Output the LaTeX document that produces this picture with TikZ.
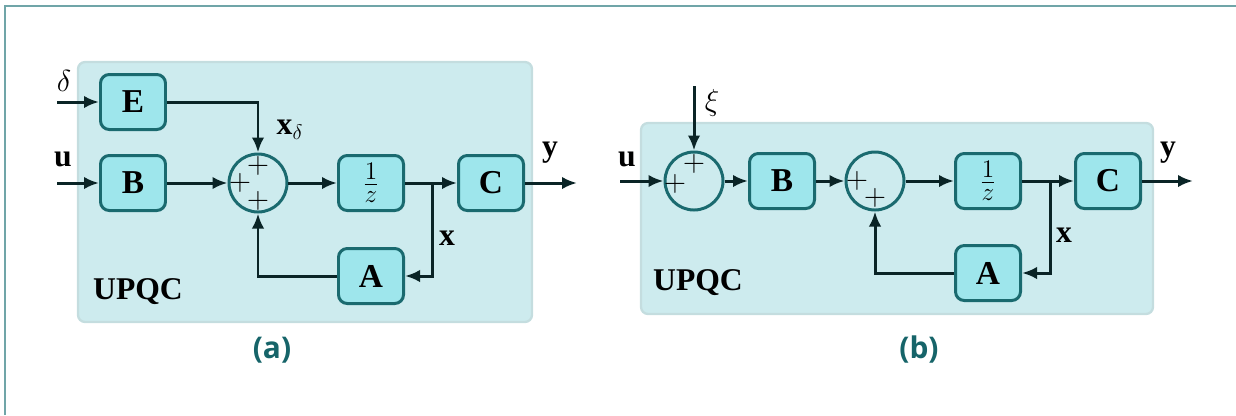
\documentclass[tikz,border=0pt]{standalone}
\usepackage{amsmath}
\usepackage{fontspec}
\setmainfont{Liberation Serif}
\newfontfamily\capfont{Open Sans}
\usepackage{tikz}
\usetikzlibrary{positioning,arrows.meta,calc,backgrounds}

\definecolor{panelfill}{RGB}{205,235,238}
\definecolor{paneldraw}{RGB}{196,221,223}
\definecolor{blockfill}{RGB}{158,230,236}
\definecolor{blockdraw}{RGB}{26,106,111}
\definecolor{wire}{RGB}{10,36,38}
\definecolor{captxt}{RGB}{22,100,105}
\definecolor{framecol}{RGB}{112,165,168}

\begin{document}
\begin{tikzpicture}[font=\fontsize{18}{21}\selectfont,
  panel/.style={draw=paneldraw,line width=1.3pt,fill=panelfill,rounded corners=4pt},
  block/.style={draw=blockdraw,line width=1.7pt,fill=blockfill,rounded corners=5pt,minimum width=1.3cm,minimum height=1.1cm,inner sep=0pt,font=\fontsize{19}{21}\selectfont\bfseries},
  summer/.style={circle,draw=blockdraw,line width=1.7pt,minimum size=1.16cm,inner sep=0pt},
  sig/.style={draw=wire,line width=1.7pt,-{Latex[length=3mm,width=2.5mm]}},
  pm/.style={font=\fontsize{16}{16}\selectfont,inner sep=0pt},
  subcap/.style={font=\capfont\bfseries\fontsize{17}{20}\selectfont,text=captxt}]
\useasboundingbox (0,0) rectangle (24.72,-8.3);
\draw[framecol,line width=1.1pt] (0.1,-8.3) -- (0.1,-0.12) -- (24.72,-0.12);

% (a)
\draw[panel] (1.56,-1.24) rectangle (10.64,-6.44);
\node[block] (Ea) at (2.66,-2.04) {E};
\node[block] (Ba) at (2.66,-3.66) {B};
\node[summer] (sa) at (5.16,-3.66) {};
\node[block,font=\fontsize{19}{21}\selectfont] (za) at (7.42,-3.66) {$\frac{1}{z}$};
\node[block] (Ca) at (9.82,-3.66) {C};
\node[block] (Aa) at (7.42,-5.52) {A};
\node[pm] (pa1) at ($(sa)+(0,0.34)$) {$+$};
\node[pm] (pa2) at ($(sa)+(-0.36,0)$) {$+$};
\node[pm] (pa3) at ($(sa)+(0,-0.36)$) {$+$};
\coordinate (da) at (1.14,-2.04);
\coordinate (ua) at (1.14,-3.66);
\coordinate (bra) at (8.64,-3.66);
\coordinate (ya) at (11.54,-3.66);
\draw[sig] (da) -- (Ea);
\draw[sig] (ua) -- (Ba);
\draw[sig] (Ea.east) -| (sa.north);
\draw[sig] (Ba) -- (sa);
\draw[sig] (sa) -- (za);
\draw[sig] (za) -- (Ca);
\draw[sig] (bra) |- (Aa.east);
\draw[sig] (Aa.west) -| (sa.south);
\draw[sig] (Ca) -- (ya);
\node (lda) at (1.28,-1.62) {$\delta$};
\node (lua) at (1.26,-3.18) {\bfseries u};
\node (lxd) at (5.8,-2.6) {\bfseries x$_\delta$};
\node (lxa) at (8.94,-4.76) {\bfseries x};
\node (lya) at (11.0,-3.06) {\bfseries y};
\node (upa) at (2.76,-5.84) {\bfseries UPQC};
\node[subcap] (capa) at (5.44,-7.0) {(a)};

% (b)
\draw[panel] (12.82,-2.46) rectangle (23.06,-6.28);
\node[summer] (sb1) at (13.88,-3.62) {};
\node[block] (Bb) at (15.64,-3.62) {B};
\node[summer] (sb2) at (17.5,-3.62) {};
\node[block,font=\fontsize{19}{21}\selectfont] (zb) at (19.76,-3.62) {$\frac{1}{z}$};
\node[block] (Cb) at (22.16,-3.62) {C};
\node[block] (Ab) at (19.76,-5.46) {A};
\node[pm] (pb1) at ($(sb1)+(0,0.34)$) {$+$};
\node[pm] (pb2) at ($(sb1)+(-0.38,-0.06)$) {$+$};
\node[pm] (pb3) at ($(sb2)+(-0.36,0)$) {$+$};
\node[pm] (pb4) at ($(sb2)+(0,-0.34)$) {$+$};
\coordinate (xib) at (13.88,-1.72);
\coordinate (ub) at (12.4,-3.62);
\coordinate (brb) at (21.0,-3.62);
\coordinate (yb) at (23.86,-3.62);
\draw[sig] (xib) -- (sb1.north);
\draw[sig] (ub) -- (sb1);
\draw[sig] (sb1) -- (Bb);
\draw[sig] (Bb) -- (sb2);
\draw[sig] (sb2) -- (zb);
\draw[sig] (zb) -- (Cb);
\draw[sig] (brb) |- (Ab.east);
\draw[sig] (Ab.west) -| (sb2.south);
\draw[sig] (Cb) -- (yb);
\node (lxi) at (14.24,-2.06) {$\xi$};
\node (lub) at (12.54,-3.18) {\bfseries u};
\node (lxb) at (21.28,-4.7) {\bfseries x};
\node (lyb) at (23.36,-3.06) {\bfseries y};
\node (upb) at (13.96,-5.66) {\bfseries UPQC};
\node[subcap] (capb) at (18.38,-7.0) {(b)};
\end{tikzpicture}
\end{document}
